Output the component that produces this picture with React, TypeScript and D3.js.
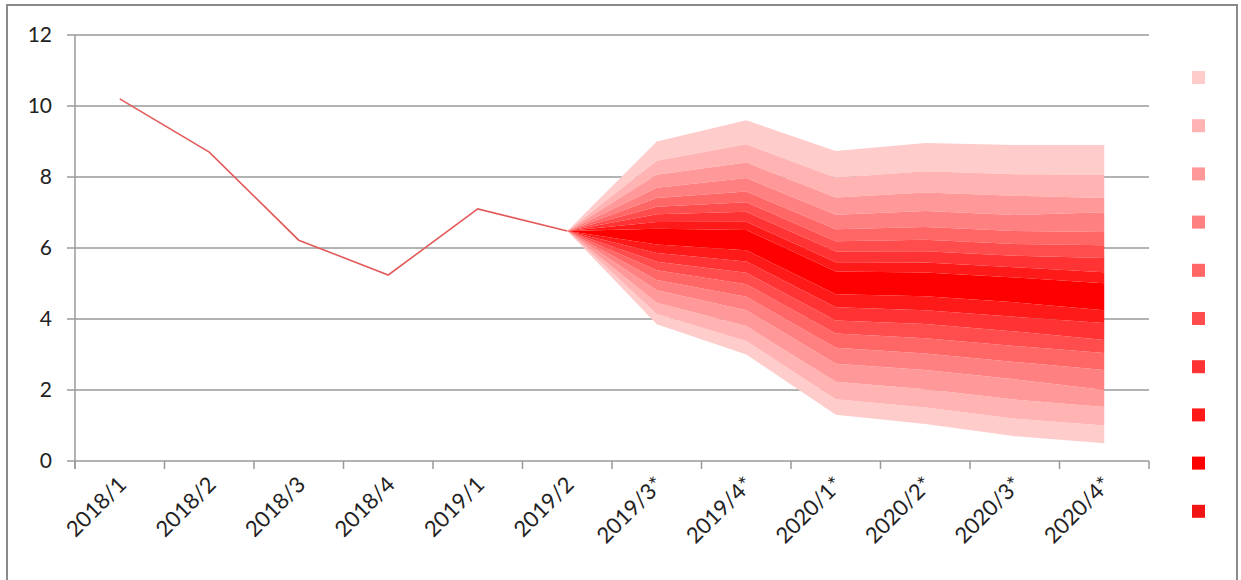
import React from "react";
import * as d3 from "d3";

const categories = ["2018/1","2018/2","2018/3","2018/4","2019/1","2019/2","2019/3*","2019/4*","2020/1*","2020/2*","2020/3*","2020/4*"];
const actualValues = [10.2, 8.7, 6.22, 5.24, 7.1, 6.48];
const yTicks = [0, 2, 4, 6, 8, 10, 12];

const fanPeriods = ["2019/2","2019/3*","2019/4*","2020/1*","2020/2*","2020/3*","2020/4*"];
// upper boundaries, outer -> inner (one array per period)
const upperBounds = [
  [6.48, 6.48, 6.48, 6.48, 6.48, 6.48, 6.48, 6.48, 6.48],
  [9.0, 8.46, 8.06, 7.70, 7.41, 7.16, 6.95, 6.73, 6.54],
  [9.6, 8.92, 8.41, 7.97, 7.59, 7.29, 7.02, 6.74, 6.51],
  [8.73, 7.98, 7.42, 6.94, 6.53, 6.19, 5.90, 5.60, 5.34],
  [8.96, 8.16, 7.56, 7.04, 6.59, 6.23, 5.91, 5.59, 5.31],
  [8.9, 8.08, 7.47, 6.93, 6.48, 6.11, 5.78, 5.46, 5.17],
  [8.9, 8.06, 7.41, 7.01, 6.45, 6.08, 5.72, 5.32, 5.01],
];
// lower boundaries, inner -> outer
const lowerBounds = [
  [6.48, 6.48, 6.48, 6.48, 6.48, 6.48, 6.48, 6.48, 6.48],
  [6.10, 5.86, 5.61, 5.37, 5.10, 4.81, 4.46, 4.14, 3.85],
  [5.94, 5.62, 5.30, 4.98, 4.63, 4.25, 3.80, 3.38, 3.0],
  [4.70, 4.33, 3.96, 3.59, 3.19, 2.74, 2.23, 1.74, 1.3],
  [4.64, 4.25, 3.86, 3.46, 3.03, 2.56, 2.02, 1.51, 1.04],
  [4.47, 4.06, 3.65, 3.24, 2.79, 2.30, 1.73, 1.19, 0.7],
  [4.25, 3.89, 3.41, 3.04, 2.56, 2.0, 1.52, 1.0, 0.5],
];
const shades = ["#ffcccc","#ffb3b3","#ff9999","#ff8080","#ff6666","#ff4d4d","#ff3333","#ff1a1a","#ff0000","#f01414"];

const W = 1241, H = 580;
const left = 75, right = 1149, top = 35, bottom = 461;

export default function App() {
  const x = d3.scaleBand<string>().domain(categories).range([left, right]);
  const y = d3.scaleLinear().domain([0, 12]).range([bottom, top]);
  const cx = (c: string) => (x(c) as number) + x.bandwidth() / 2;
  const font = "Lato, 'Open Sans', sans-serif";

  const line = d3.line<number>().x((_, i) => cx(categories[i])).y(d => y(d));

  const bands: { d: string; fill: string }[] = [];
  const area = d3.area<{ c: string; lo: number; hi: number }>()
    .x(p => cx(p.c)).y0(p => y(p.lo)).y1(p => y(p.hi));
  const nU = upperBounds[0].length;
  for (let k = 0; k < nU - 1; k++) {
    const pts = fanPeriods.map((c, i) => ({ c, lo: upperBounds[i][k + 1], hi: upperBounds[i][k] }));
    bands.push({ d: area(pts) as string, fill: shades[k] });
  }
  for (let k = 0; k < nU - 1; k++) {
    const pts = fanPeriods.map((c, i) => ({ c, lo: lowerBounds[i][nU - 1 - k], hi: lowerBounds[i][nU - 2 - k] }));
    bands.push({ d: area(pts) as string, fill: shades[k] });
  }
  {
    const pts = fanPeriods.map((c, i) => ({ c, lo: lowerBounds[i][0], hi: upperBounds[i][nU - 1] }));
    bands.push({ d: area(pts) as string, fill: shades[8] });
  }

  const boundaries = categories.map(c => x(c) as number).concat([right]);

  return (
    <svg width={W} height={H} style={{ position: "absolute", left: 0, top: 0, background: "#fff" }}>
      <rect x={7} y={5} width={1230} height={590} fill="#fff" stroke="#8a8a8a" strokeWidth={2} />
      {yTicks.map(t => (
        <g key={t}>
          <line x1={left - 8} x2={right} y1={y(t)} y2={y(t)} stroke="#9a9a9a" strokeWidth={1.5} />
          <text x={52} y={y(t)} dy="0.35em" textAnchor="end" fontFamily={font} fontSize={21} fill="#222">{t}</text>
        </g>
      ))}
      <line x1={left} x2={left} y1={top} y2={bottom + 8} stroke="#9a9a9a" strokeWidth={1.5} />
      {boundaries.map((b, i) => (
        <line key={i} x1={b} x2={b} y1={bottom} y2={bottom + 8} stroke="#9a9a9a" strokeWidth={1.5} />
      ))}
      {bands.map((b, i) => <path key={i} d={b.d} fill={b.fill} stroke="none" />)}
      <path d={line(actualValues) as string} fill="none" stroke="#e35a5a" strokeWidth={1.6} />
      {categories.map(c => (
        <text key={c} transform={`translate(${cx(c) + 8},${bottom + 25}) rotate(-45)`} textAnchor="end"
          fontFamily={font} fontSize={22} fill="#222">{c}</text>
      ))}
      {shades.map((s, i) => (
        <rect key={i} x={1192} y={71 + i * 48.2} width={13} height={13} fill={s} />
      ))}
    </svg>
  );
}
